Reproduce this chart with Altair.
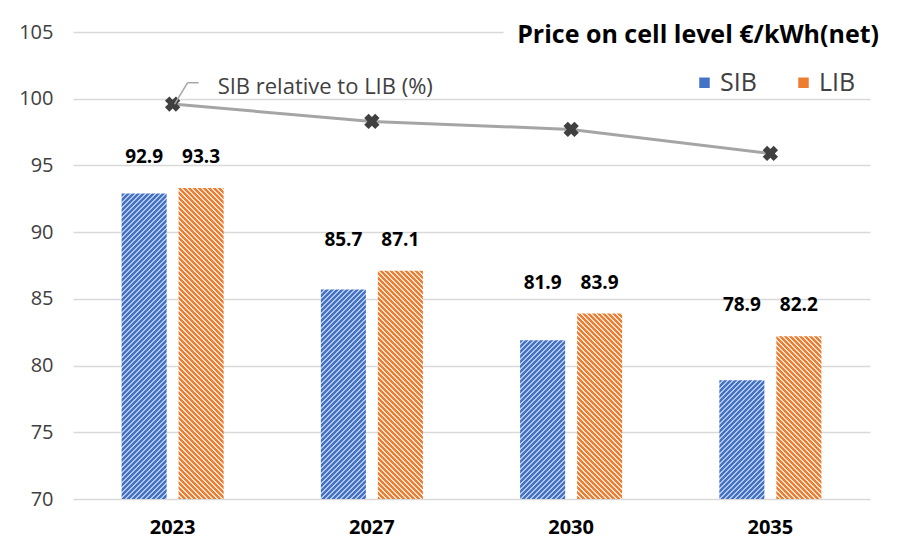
import altair as alt
import pandas as pd

# ---- data ----
years = ["2023", "2027", "2030", "2035"]
sib_price = [92.9, 85.7, 81.9, 78.9]
lib_price = [93.3, 87.1, 83.9, 82.2]
sib_rel_lib = [99.6, 98.3, 97.7, 95.9]
series = ["SIB", "LIB"]
y_ticks = [70, 75, 80, 85, 90, 95, 100, 105]

# ---- layout / style constants ----
W, H = 797, 467
YMIN, YMAX = 70, 105
FONT = "Open Sans"
BAR_W = 45.0
PERIOD = 5.0
DARK_FRAC = 0.62
DARK = {"SIB": "#4472C4", "LIB": "#ED7D31"}
LIGHT = {"SIB": "#B4C7E7", "LIB": "#FBE3D2"}


def hatch(name, value):
    """Diagonal hatch drawn as a hard-stop linear gradient (object bbox units)."""
    w = BAR_W
    h = max((value - YMIN) * H / (YMAX - YMIN), 1.0)
    r = h / w
    a = (1 + r) / (1 + r * r)
    b = r * a
    n = int((w + h) / PERIOD) + 1
    step = PERIOD / (w + h)
    stops = []
    for k in range(n):
        o0 = min(k * step, 1.0)
        o1 = min((k + DARK_FRAC) * step, 1.0)
        o2 = min((k + 1) * step, 1.0)
        stops += [
            {"offset": o0, "color": DARK[name]},
            {"offset": o1, "color": DARK[name]},
            {"offset": o1, "color": LIGHT[name]},
            {"offset": o2, "color": LIGHT[name]},
        ]
    if name == "SIB":  # "/" stripes
        g = {"gradient": "linear", "x1": 0, "y1": 0, "x2": a, "y2": b, "stops": stops}
    else:  # "\" stripes
        g = {"gradient": "linear", "x1": 0, "y1": 1, "x2": a, "y2": 1 - b, "stops": stops}
    return g


bar_rows = []
for i, yr in enumerate(years):
    for s, vals in (("SIB", sib_price), ("LIB", lib_price)):
        bar_rows.append({"year": yr, "series": s, "value": vals[i], "grad": hatch(s, vals[i])})
bars_data = alt.Data(values=bar_rows)

line_df = pd.DataFrame({"year": years, "rel": sib_rel_lib})
ann_df = pd.DataFrame({"year": [years[0]], "rel": [sib_rel_lib[0]], "top": [101.2],
                       "label": ["SIB relative to LIB (%)"]})

x_enc = alt.X(
    "year:N",
    sort=years,
    scale=alt.Scale(domain=years, paddingInner=0.488, paddingOuter=0.244),
    axis=alt.Axis(
        title=None, labelFont=FONT, labelFontSize=20, labelFontWeight="bold",
        labelColor="#000000", ticks=False, domain=False, labelPadding=18,
        labelAngle=0,
    ),
)
xoff = alt.XOffset("series:N", sort=series,
                   scale=alt.Scale(domain=series, paddingInner=0.21, paddingOuter=0))
y_scale = alt.Scale(domain=[YMIN, YMAX], nice=False, zero=False)

bars = alt.Chart(bars_data).mark_bar().encode(
    x=x_enc,
    xOffset=xoff,
    y=alt.Y(
        "value:Q", scale=y_scale, stack=None,
        axis=alt.Axis(
            title=None, values=y_ticks, labelFont=FONT, labelFontSize=20,
            labelColor="#404040", ticks=False, domain=False, labelPadding=20,
            gridColor="#D9D9D9", gridWidth=1.5,
            gridDash=alt.condition("datum.value === 105", alt.value([430, 2000]), alt.value([])),
        ),
    ),
    y2=alt.datum(YMIN),
    fill=alt.Fill("grad:N", scale=None, legend=None),
)

labels = alt.Chart(bars_data).transform_joinaggregate(
    top="max(value)", groupby=["year"]
).mark_text(
    font=FONT, fontSize=19, fontWeight="bold", color="#000000",
    baseline="bottom", dy=-21,
).encode(
    x=alt.X("year:N", sort=years),
    xOffset=alt.XOffset("series:N", sort=series),
    y=alt.Y("top:Q"),
    text=alt.Text("value:Q", format=".1f"),
)

line = alt.Chart(line_df).mark_line(color="#A5A5A5", strokeWidth=3).encode(
    x=alt.X("year:N", sort=years),
    y=alt.Y("rel:Q"),
)
pts = alt.Chart(line_df).mark_point(
    shape="cross", angle=45, filled=True, size=240, color="#404040", opacity=1
).encode(
    x=alt.X("year:N", sort=years),
    y=alt.Y("rel:Q"),
)

leader1 = alt.Chart(ann_df).mark_rule(
    color="#A5A5A5", strokeWidth=1.5, xOffset=2, x2Offset=15
).encode(
    x=alt.X("year:N", sort=years, bandPosition=0.5),
    x2=alt.X2("year", bandPosition=0.5),
    y=alt.Y("rel:Q"),
    y2=alt.Y2("top"),
)
leader2 = alt.Chart(ann_df).mark_rule(
    color="#A5A5A5", strokeWidth=1.5, xOffset=15, x2Offset=26
).encode(
    x=alt.X("year:N", sort=years, bandPosition=0.5),
    x2=alt.X2("year", bandPosition=0.5),
    y=alt.Y("top:Q"),
    y2=alt.Y2("top"),
)
ann = alt.Chart(ann_df).mark_text(
    font=FONT, fontSize=22, color="#404040", align="left", baseline="middle",
    dx=45, dy=4,
).encode(
    x=alt.X("year:N", sort=years),
    y=alt.Y("top:Q"),
    text="label:N",
)

legend_layer = alt.Chart(pd.DataFrame({"series": series})).transform_filter(
    "false"
).mark_square().encode(
    color=alt.Color(
        "series:N",
        scale=alt.Scale(domain=series, range=[DARK["SIB"], DARK["LIB"]]),
        legend=alt.Legend(
            title=None, orient="none", direction="horizontal",
            legendX=619, legendY=38, symbolType="square", symbolSize=110,
            labelFont=FONT, labelFontSize=25, labelColor="#404040",
            labelOffset=3, columnPadding=34, padding=0, symbolOpacity=1,
        ),
    ),
)

chart = alt.layer(
    bars, labels, line, pts, leader1, leader2, ann, legend_layer
).properties(
    width=W, height=H,
    title=alt.TitleParams(
        "Price on cell level €/kWh(net)", anchor="end", frame="group",
        font=FONT, fontSize=25, fontWeight="bold", color="#000000",
        dx=9, dy=26, offset=0,
    ),
    autosize=alt.AutoSizeParams(type="none"),
    padding={"left": 65, "top": 24, "right": 15, "bottom": 45},
).configure_view(stroke=None)

chart.save("out.html", embed_options={"renderer": "svg", "actions": False})
